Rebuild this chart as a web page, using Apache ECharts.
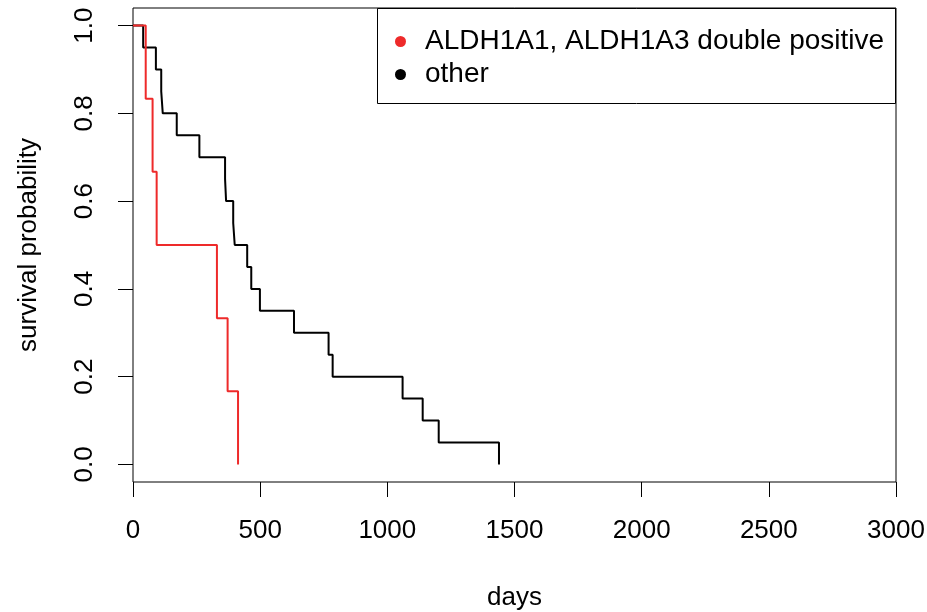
<!DOCTYPE html>
<html>
<head>
<meta charset="utf-8">
<script src="https://cdn.jsdelivr.net/npm/echarts@6/dist/echarts.min.js"></script>
<style>
  html, body { margin: 0; padding: 0; background: #fff; }
  #main { width: 927px; height: 612px; }
</style>
</head>
<body>
<div id="main"></div>
<script>
// Kaplan-Meier steps
const dpName = 'ALDH1A1, ALDH1A3 double positive';
const dpDays = [0, 50, 77, 93, 330, 372, 413];
const dpSurv = [1, 0.833, 0.667, 0.5, 0.333, 0.167, 0];

const otherName = 'other';
const otherDays = [0, 40, 90, 111, 117, 172, 261, 362, 366, 394, 400, 449, 465, 499, 633, 769, 785, 1060, 1139, 1202, 1439];
const otherSurv = [1, 0.95, 0.9, 0.85, 0.8, 0.75, 0.7, 0.65, 0.6, 0.55, 0.5, 0.45, 0.4, 0.35, 0.3, 0.25, 0.2, 0.15, 0.1, 0.05, 0];

const yTicks = [0, 0.2, 0.4, 0.6, 0.8, 1.0];

const FONT = '"Liberation Sans", Arial, sans-serif';

function pairs(xs, ys) {
  return xs.map(function (x, i) { return [x, ys[i]]; });
}

const chart = echarts.init(document.getElementById('main'), null, { renderer: 'canvas' });

const option = {
  backgroundColor: '#fff',
  animation: false,
  textStyle: { fontFamily: FONT, color: '#000' },
  grid: {
    left: 133, right: 31, top: 8, bottom: 130,
    outerBoundsMode: 'none',
    containLabel: false,
    show: true, borderColor: '#000', borderWidth: 1, backgroundColor: 'transparent'
  },
  xAxis: {
    type: 'value',
    min: 0, max: 3000, interval: 500,
    name: 'days',
    nameLocation: 'middle',
    nameGap: 103,
    nameTextStyle: { fontSize: 26, fontFamily: FONT, color: '#000' },
    axisLine: { show: false, onZero: false },
    axisTick: { show: true, inside: false, length: 15, lineStyle: { color: '#000', width: 1 } },
    axisLabel: {
      fontSize: 26, fontFamily: FONT, color: '#000', margin: 36,
      showMinLabel: true, showMaxLabel: true,
      formatter: function (v) { return String(v); }
    },
    splitLine: { show: false }
  },
  yAxis: {
    type: 'value',
    min: -0.04, max: 1.04,
    name: 'survival probability',
    nameLocation: 'middle',
    nameGap: 91,
    nameRotate: 90,
    nameTextStyle: { fontSize: 26, fontFamily: FONT, color: '#000' },
    axisLine: { show: false, onZero: false },
    axisTick: { show: true, length: 15, customValues: yTicks, lineStyle: { color: '#000', width: 1 } },
    axisLabel: {
      fontSize: 26, fontFamily: FONT, color: '#000', rotate: 90, margin: 35,
      customValues: yTicks,
      formatter: function (v) { return v.toFixed(1); }
    },
    splitLine: { show: false }
  },
  legend: {
    orient: 'vertical',
    left: 390, top: 20,
    z: 10,
    icon: 'circle',
    itemWidth: 11, itemHeight: 11,
    itemGap: 0,
    textStyle: { fontSize: 28, fontFamily: FONT, color: '#000', padding: [0, 0, 0, 14], lineHeight: 33 },
    data: [
      { name: dpName, itemStyle: { color: '#ee2a2a' } },
      { name: otherName, itemStyle: { color: '#000' } }
    ]
  },
  graphic: [{
    type: 'rect',
    shape: { x: 377.5, y: 8.5, width: 518, height: 95 },
    style: { fill: 'none', stroke: '#000', lineWidth: 1 },
    z: 1
  }],
  series: [
    {
      name: dpName,
      type: 'line',
      step: 'end',
      showSymbol: false,
      symbol: 'none',
      lineStyle: { color: '#ee2a2a', width: 2 },
      itemStyle: { color: '#ee2a2a' },
      data: pairs(dpDays, dpSurv),
      z: 3
    },
    {
      name: otherName,
      type: 'line',
      step: 'end',
      showSymbol: false,
      symbol: 'none',
      lineStyle: { color: '#000', width: 2 },
      itemStyle: { color: '#000' },
      data: pairs(otherDays, otherSurv),
      z: 2
    }
  ]
};

chart.setOption(option);
</script>
</body>
</html>
